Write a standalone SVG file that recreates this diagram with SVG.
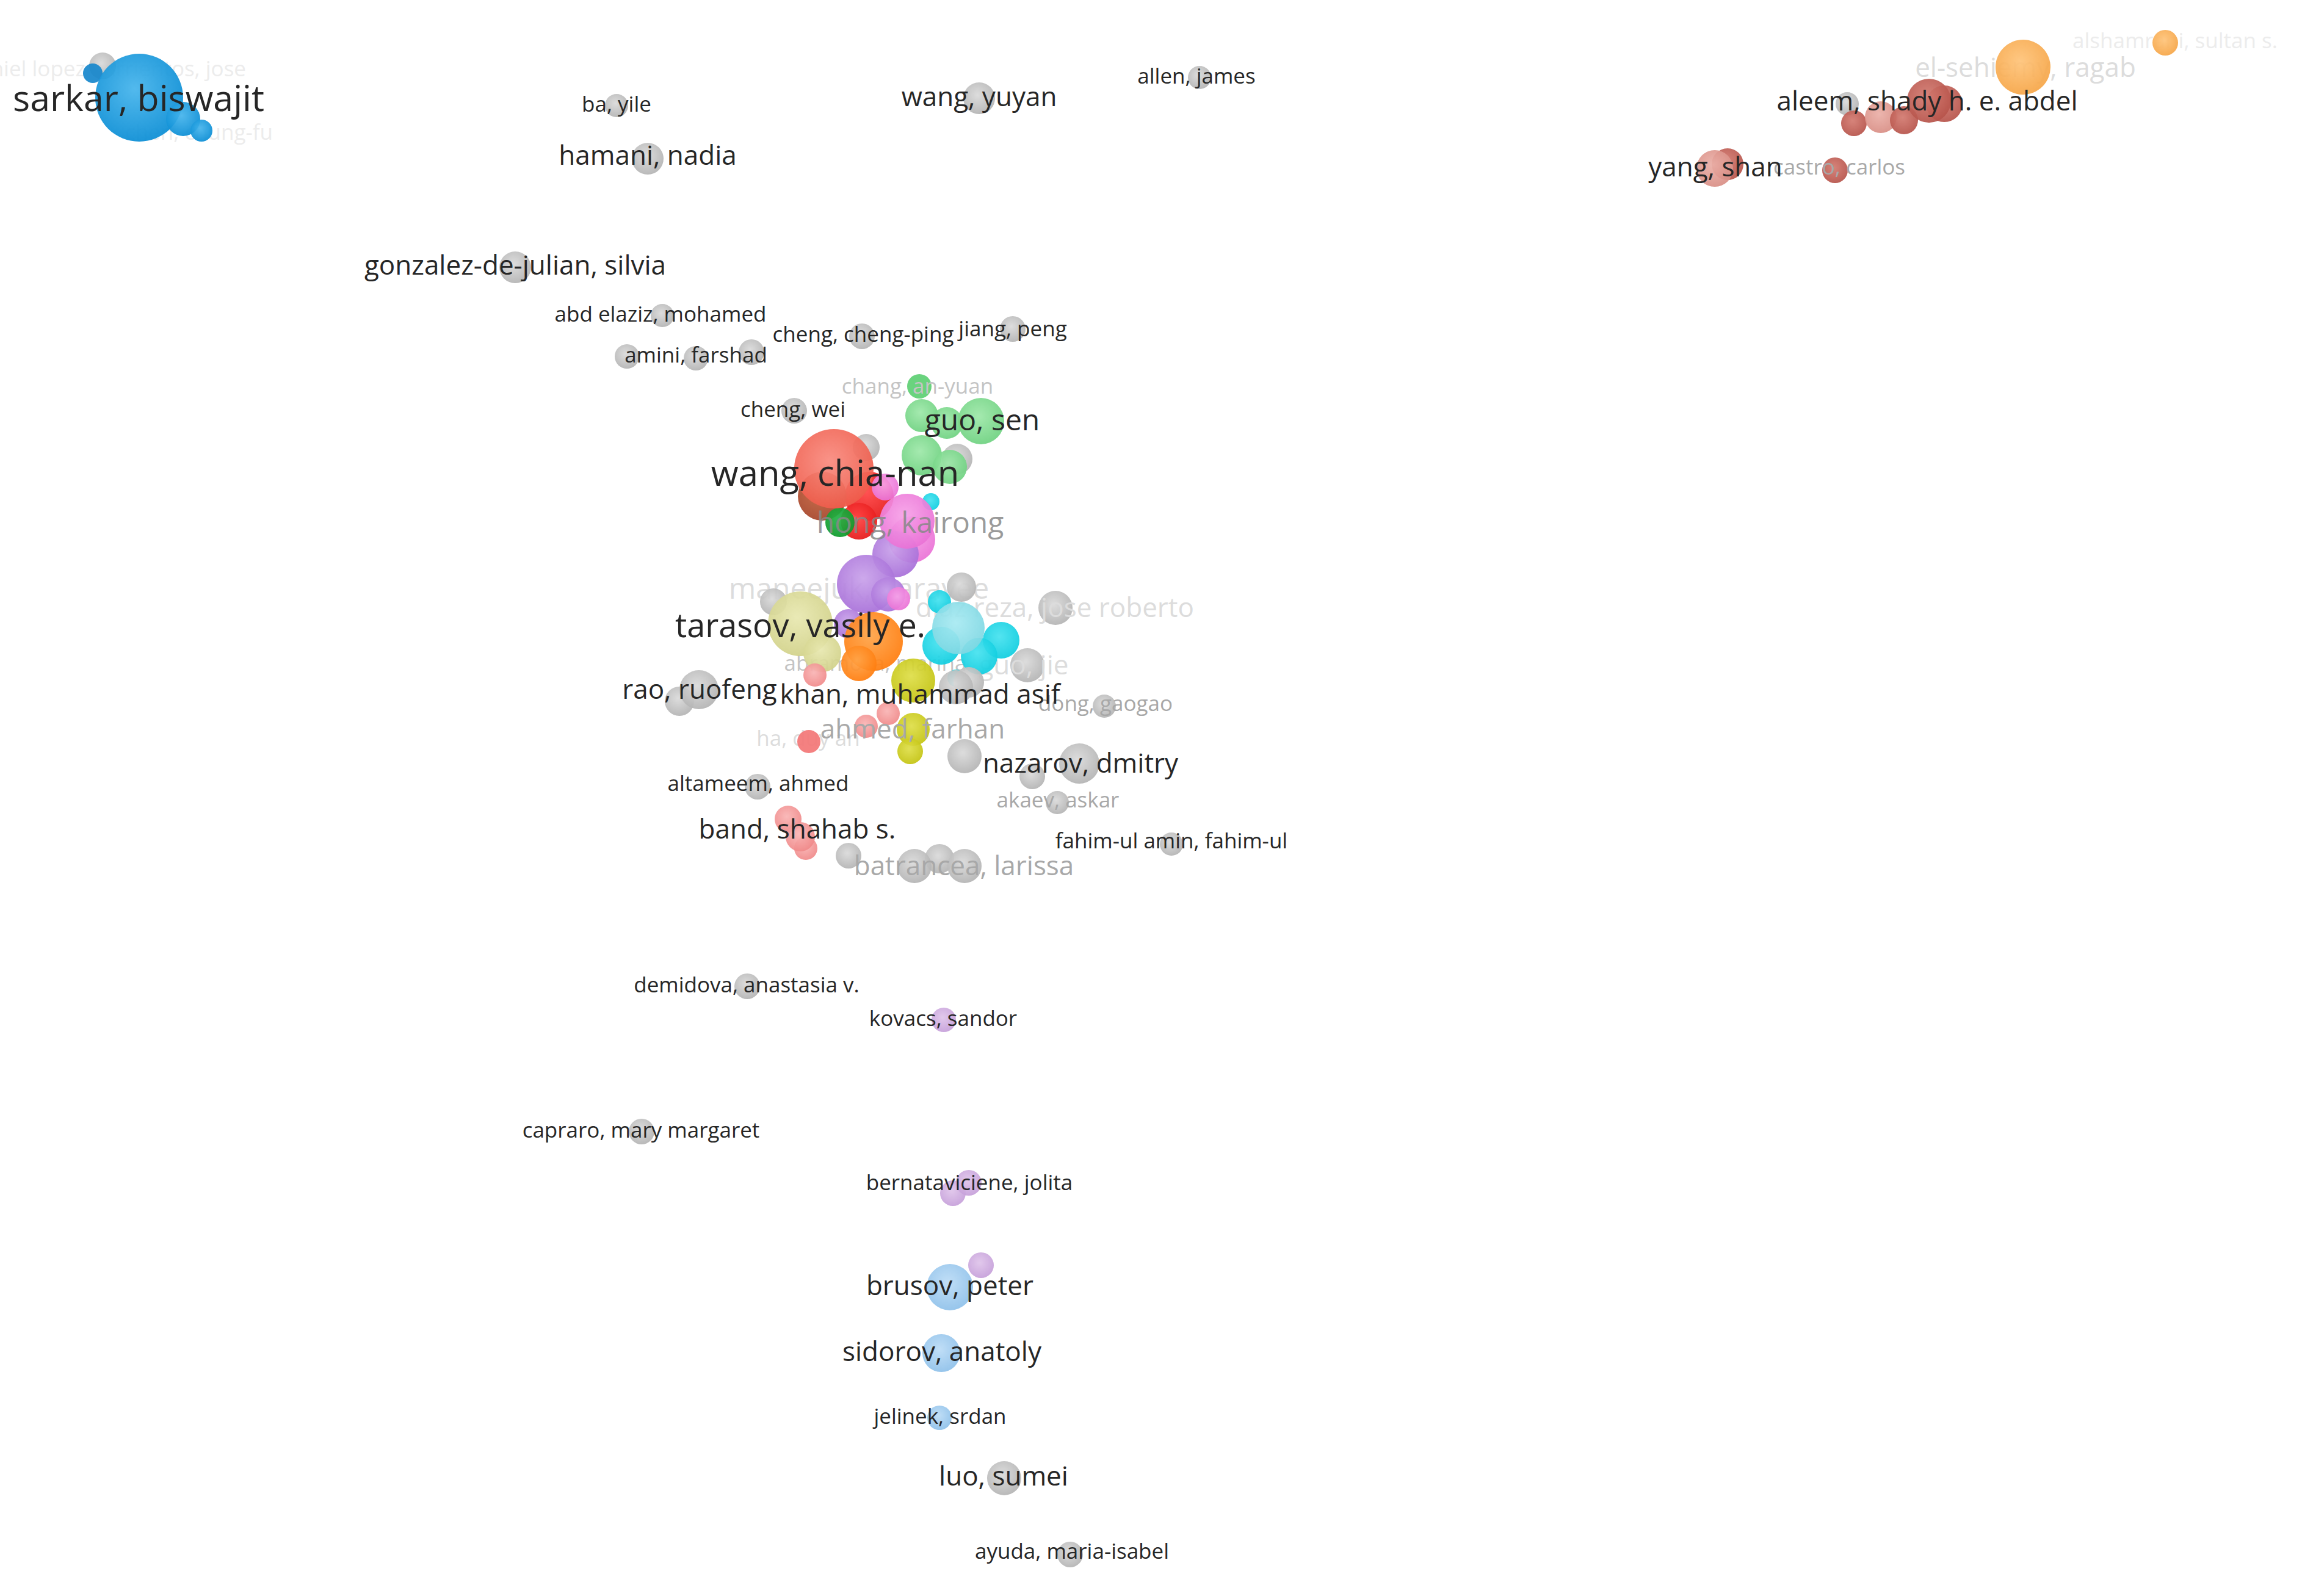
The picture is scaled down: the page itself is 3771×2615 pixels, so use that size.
<svg xmlns="http://www.w3.org/2000/svg" width="3771" height="2615" viewBox="0 0 3771 2615">
<style>
text{font-family:"Open Sans","Noto Sans","Liberation Sans",sans-serif;text-anchor:middle}
.s{font-size:35px}.m{font-size:44px}.mm{font-size:48px}.l{font-size:58px}.lt{font-size:54px}.xl{font-size:59px}
.d{fill:#262626}.f0{fill:#ececec}.f1{fill:#dcdcdc}.f2{fill:#c4c4c4}.f3{fill:#a8a8a8}.f4{fill:#888}
circle{fill-opacity:.93}
</style>
<defs>
<radialGradient id="gy" cx="45%" cy="40%" r="60%"><stop offset="0" stop-color="#dadada"/><stop offset="1" stop-color="#b4b4b4"/></radialGradient>
<radialGradient id="bl" cx="45%" cy="40%" r="60%"><stop offset="0" stop-color="#45b4ec"/><stop offset="1" stop-color="#0b8ed5"/></radialGradient>
<radialGradient id="rl" cx="45%" cy="40%" r="60%"><stop offset="0" stop-color="#f98b7f"/><stop offset="1" stop-color="#ef5d4c"/></radialGradient>
<radialGradient id="br" cx="45%" cy="40%" r="60%"><stop offset="0" stop-color="#c4643f"/><stop offset="1" stop-color="#a6452a"/></radialGradient>
<radialGradient id="rs" cx="45%" cy="40%" r="60%"><stop offset="0" stop-color="#ff4545"/><stop offset="1" stop-color="#e61a1a"/></radialGradient>
<radialGradient id="gl" cx="45%" cy="40%" r="60%"><stop offset="0" stop-color="#9ee8a9"/><stop offset="1" stop-color="#6fd281"/></radialGradient>
<radialGradient id="gd" cx="45%" cy="40%" r="60%"><stop offset="0" stop-color="#26b447"/><stop offset="1" stop-color="#0e9a2c"/></radialGradient>
<radialGradient id="pk" cx="45%" cy="40%" r="60%"><stop offset="0" stop-color="#f7a2e8"/><stop offset="1" stop-color="#ea72d6"/></radialGradient>
<radialGradient id="pu" cx="45%" cy="40%" r="60%"><stop offset="0" stop-color="#c9a2ea"/><stop offset="1" stop-color="#a870d9"/></radialGradient>
<radialGradient id="kh" cx="45%" cy="40%" r="60%"><stop offset="0" stop-color="#e8e8b0"/><stop offset="1" stop-color="#d2d28a"/></radialGradient>
<radialGradient id="or" cx="45%" cy="40%" r="60%"><stop offset="0" stop-color="#ffa448"/><stop offset="1" stop-color="#ff7d0e"/></radialGradient>
<radialGradient id="cl" cx="45%" cy="40%" r="60%"><stop offset="0" stop-color="#a8eaf2"/><stop offset="1" stop-color="#80d8e3"/></radialGradient>
<radialGradient id="cy" cx="45%" cy="40%" r="60%"><stop offset="0" stop-color="#46e2ef"/><stop offset="1" stop-color="#10cee0"/></radialGradient>
<radialGradient id="ol" cx="45%" cy="40%" r="60%"><stop offset="0" stop-color="#dede48"/><stop offset="1" stop-color="#c4c412"/></radialGradient>
<radialGradient id="sa" cx="45%" cy="40%" r="60%"><stop offset="0" stop-color="#f9b4b4"/><stop offset="1" stop-color="#f08a8a"/></radialGradient>
<radialGradient id="lv" cx="45%" cy="40%" r="60%"><stop offset="0" stop-color="#dfc4ea"/><stop offset="1" stop-color="#c6a0da"/></radialGradient>
<radialGradient id="lb" cx="45%" cy="40%" r="60%"><stop offset="0" stop-color="#bcdcf6"/><stop offset="1" stop-color="#8fc1ea"/></radialGradient>
<radialGradient id="bx" cx="45%" cy="40%" r="60%"><stop offset="0" stop-color="#d37a70"/><stop offset="1" stop-color="#b7544b"/></radialGradient>
<radialGradient id="pr" cx="45%" cy="40%" r="60%"><stop offset="0" stop-color="#ebb0a8"/><stop offset="1" stop-color="#d98f86"/></radialGradient>
<radialGradient id="lo" cx="45%" cy="40%" r="60%"><stop offset="0" stop-color="#ffc47a"/><stop offset="1" stop-color="#f6a648"/></radialGradient>
</defs>
<rect width="3771" height="2615" fill="#fff"/>
<g id="connectors"/>

<!-- faint labels drawn beneath bubbles -->
<g id="n-lopez-barrientos-jose"><text class="s f0" x="403" y="125" style="text-anchor:end">daniel lopez barrientos, jose</text></g>
<g id="n-chen-chung-fu"><text class="s f0" x="447" y="229" style="text-anchor:end">chen, chung-fu</text></g>
<g id="n-maneejuk-paravee"><text class="mm f1" x="1407" y="981">maneejuk, paravee</text></g>
<g id="n-diaz-reza-jose-roberto"><circle cx="1729" cy="996" r="28" fill="url(#gy)"/><text class="m f1" x="1728" y="1011">diaz reza, jose roberto</text></g>
<g id="n-guo-jie"><circle cx="1683" cy="1090" r="28" fill="url(#gy)"/><text class="m f1" x="1677" y="1105">guo, jie</text></g>
<g id="n-abramova-marina"><text class="s f2" x="1434" y="1099">abramova, marina</text></g>
<g id="n-ha-duy-an"><text class="s f1" x="1324" y="1222">ha, duy an</text></g>
<g id="n-alshamrani-sultan-s"><text class="s f0" x="3563" y="79">alshamrani, sultan s.</text><circle cx="3547" cy="70" r="21" fill="url(#lo)"/></g>
<g id="n-el-sehiemy-ragab"><text class="m f1" x="3318" y="126">el-sehiemy, ragab</text><circle cx="3314" cy="110" r="45" fill="url(#lo)"/></g>

<!-- unlabelled bubbles -->
<g id="bubbles">
<circle cx="168" cy="108" r="22" fill="url(#gy)"/>
<circle cx="152" cy="120" r="16" fill="#1888cc"/>
<circle cx="228" cy="160" r="72" fill="url(#bl)"/>
<circle cx="300" cy="195" r="28" fill="url(#bl)"/>
<circle cx="330" cy="214" r="18" fill="url(#bl)"/>
<circle cx="1027" cy="584" r="20" fill="url(#gy)"/>
<circle cx="1231" cy="577" r="21" fill="url(#gy)"/>
<circle cx="1419" cy="733" r="22" fill="url(#gy)"/>
<circle cx="1568" cy="752" r="25" fill="url(#gy)"/>
<circle cx="1510" cy="681" r="27" fill="url(#gl)"/>
<circle cx="1551" cy="693" r="26" fill="url(#gl)"/>
<circle cx="1510" cy="746" r="33" fill="url(#gl)"/>
<circle cx="1556" cy="765" r="28" fill="url(#gl)"/>
<circle cx="1525" cy="822" r="14" fill="url(#cy)"/>
<circle cx="1424" cy="813" r="40" fill="url(#rs)"/>
<circle cx="1347" cy="813" r="40" fill="url(#br)"/>
<circle cx="1407" cy="854" r="30" fill="url(#rs)"/>
<circle cx="1376" cy="856" r="24" fill="url(#gd)"/>
<circle cx="1450" cy="798" r="22" fill="url(#pk)"/>
<circle cx="1494" cy="884" r="38" fill="url(#pk)"/>
<circle cx="1467" cy="908" r="38" fill="url(#pu)"/>
<circle cx="1267" cy="986" r="22" fill="url(#gy)"/>
<circle cx="1575" cy="962" r="24" fill="url(#gy)"/>
<circle cx="1419" cy="957" r="48" fill="url(#pu)"/>
<circle cx="1455" cy="974" r="28" fill="url(#pu)"/>
<circle cx="1472" cy="981" r="19" fill="url(#pk)"/>
<circle cx="1390" cy="1022" r="24" fill="url(#pu)"/>
<circle cx="1311" cy="1022" r="53" fill="url(#kh)"/>
<circle cx="1347" cy="1070" r="31" fill="url(#kh)"/>
<circle cx="1431" cy="1051" r="48" fill="url(#or)"/>
<circle cx="1407" cy="1087" r="29" fill="url(#or)"/>
<circle cx="1539" cy="986" r="19" fill="url(#cy)"/>
<circle cx="1542" cy="1058" r="31" fill="url(#cy)"/>
<circle cx="1640" cy="1049" r="30" fill="url(#cy)"/>
<circle cx="1604" cy="1075" r="30" fill="url(#cy)"/>
<circle cx="1570" cy="1029" r="43" fill="url(#cl)"/>
<circle cx="1566" cy="1111" r="14" fill="url(#cy)"/>
<circle cx="1113" cy="1149" r="24" fill="url(#gy)"/>
<circle cx="1587" cy="1118" r="25" fill="url(#gy)"/>
<circle cx="1496" cy="1115" r="36" fill="url(#ol)"/>
<circle cx="1566" cy="1126" r="28" fill="url(#gy)"/>
<circle cx="1335" cy="1106" r="19" fill="url(#sa)"/>
<circle cx="1455" cy="1169" r="19" fill="url(#sa)"/>
<circle cx="1419" cy="1190" r="19" fill="url(#sa)"/>
<circle cx="1325" cy="1215" r="19" fill="#f37777"/>
<circle cx="1496" cy="1195" r="27" fill="url(#ol)"/>
<circle cx="1491" cy="1231" r="21" fill="url(#ol)"/>
<circle cx="1580" cy="1239" r="28" fill="url(#gy)"/>
<circle cx="1691" cy="1272" r="21" fill="url(#gy)"/>
<circle cx="1390" cy="1402" r="21" fill="url(#gy)"/>
<circle cx="1539" cy="1407" r="24" fill="url(#gy)"/>
<circle cx="1498" cy="1419" r="28" fill="url(#gy)"/>
<circle cx="1291" cy="1342" r="22" fill="url(#sa)"/>
<circle cx="1320" cy="1390" r="19" fill="url(#sa)"/>
<circle cx="1561" cy="1955" r="21" fill="url(#lv)"/>
<circle cx="1607" cy="2073" r="21" fill="url(#lv)"/>
<circle cx="3026" cy="170" r="19" fill="url(#gy)"/>
<circle cx="3037" cy="202" r="21" fill="url(#bx)"/>
<circle cx="3081" cy="192" r="26" fill="url(#pr)"/>
<circle cx="3119" cy="197" r="23" fill="url(#bx)"/>
<circle cx="3185" cy="170" r="30" fill="url(#bx)"/>
<circle cx="2830" cy="269" r="26" fill="url(#bx)"/>
</g>

<!-- labelled nodes -->
<g id="n-chang-an-yuan"><circle cx="1506" cy="633" r="20" fill="#5fd074"/><text class="s f2" x="1503" y="645">chang, an-yuan</text></g>
<g id="n-hong-kairong"><circle cx="1486" cy="854" r="45" fill="url(#pk)"/><text class="mm f4" x="1491" y="873" fill-opacity=".85">hong, kairong</text></g>
<g id="n-dong-gaogao"><circle cx="1809" cy="1157" r="19" fill="url(#gy)"/><text class="s f3" x="1811" y="1165">dong, gaogao</text></g>
<g id="n-ahmed-farhan"><text class="m f3" x="1495" y="1210">ahmed, farhan</text></g>
<g id="n-akaev-askar"><circle cx="1732" cy="1315" r="19" fill="url(#gy)"/><text class="s f3" x="1733" y="1323">akaev, askar</text></g>
<g id="n-batrancea-larissa"><circle cx="1580" cy="1419" r="28" fill="url(#gy)"/><text class="m f3" x="1579" y="1434">batrancea, larissa</text></g>
<g id="n-castro-carlos"><circle cx="3006" cy="279" r="21" fill="url(#bx)"/><text class="s f3" x="3013" y="286">castro, carlos</text></g>

<g id="n-sarkar-biswajit"><text class="xl d" x="227" y="182">sarkar, biswajit</text></g>
<g id="n-ba-yile"><circle cx="1010" cy="173" r="19" fill="url(#gy)"/><text class="s d" x="1010" y="183">ba, yile</text></g>
<g id="n-wang-yuyan"><circle cx="1604" cy="161" r="26" fill="url(#gy)"/><text class="m d" x="1604" y="174">wang, yuyan</text></g>
<g id="n-allen-james"><circle cx="1965" cy="127" r="19" fill="url(#gy)"/><text class="s d" x="1960" y="137">allen, james</text></g>
<g id="n-hamani-nadia"><circle cx="1061" cy="260" r="26" fill="url(#gy)"/><text class="m d" x="1061" y="270">hamani, nadia</text></g>
<g id="n-gonzalez-de-julian-silvia"><circle cx="844" cy="438" r="26" fill="url(#gy)"/><text class="m d" x="844" y="450">gonzalez-de-julian, silvia</text></g>
<g id="n-abd-elaziz-mohamed"><circle cx="1085" cy="517" r="19" fill="url(#gy)"/><text class="s d" x="1082" y="527">abd elaziz, mohamed</text></g>
<g id="n-amini-farshad"><circle cx="1140" cy="587" r="20" fill="url(#gy)"/><text class="s d" x="1140" y="594">amini, farshad</text></g>
<g id="n-cheng-cheng-ping"><circle cx="1412" cy="551" r="21" fill="url(#gy)"/><text class="s d" x="1414" y="560">cheng, cheng-ping</text></g>
<g id="n-jiang-peng"><circle cx="1659" cy="539" r="21" fill="url(#gy)"/><text class="s d" x="1659" y="551">jiang, peng</text></g>
<g id="n-cheng-wei"><circle cx="1301" cy="673" r="21" fill="url(#gy)"/><text class="s d" x="1299" y="683">cheng, wei</text></g>
<g id="n-guo-sen"><circle cx="1607" cy="690" r="38" fill="url(#gl)"/><text class="mm d" x="1609" y="705">guo, sen</text></g>
<g id="n-wang-chia-nan"><circle cx="1366" cy="768" r="65" fill="url(#rl)"/><text class="l d" x="1368" y="796">wang, chia-nan</text></g>
<g id="n-tarasov-vasily-e"><text class="lt d" x="1311" y="1044">tarasov, vasily e.</text></g>
<g id="n-rao-ruofeng"><circle cx="1145" cy="1130" r="32" fill="url(#gy)"/><text class="m d" x="1146" y="1145">rao, ruofeng</text></g>
<g id="n-khan-muhammad-asif"><text class="m d" x="1507" y="1153">khan, muhammad asif</text></g>
<g id="n-nazarov-dmitry"><circle cx="1768" cy="1251" r="33" fill="url(#gy)"/><text class="m d" x="1770" y="1266">nazarov, dmitry</text></g>
<g id="n-altameem-ahmed"><circle cx="1241" cy="1289" r="21" fill="url(#gy)"/><text class="s d" x="1242" y="1296">altameem, ahmed</text></g>
<g id="n-band-shahab-s"><circle cx="1311" cy="1371" r="24" fill="url(#sa)"/><text class="m d" x="1306" y="1374">band, shahab s.</text></g>
<g id="n-fahim-ul-amin-fahim-ul"><circle cx="1919" cy="1383" r="19" fill="url(#gy)"/><text class="s d" x="1919" y="1390">fahim-ul amin, fahim-ul</text></g>
<g id="n-demidova-anastasia-v"><circle cx="1224" cy="1616" r="21" fill="url(#gy)"/><text class="s d" x="1223" y="1626">demidova, anastasia v.</text></g>
<g id="n-kovacs-sandor"><circle cx="1546" cy="1671" r="20" fill="url(#lv)"/><text class="s d" x="1545" y="1681">kovacs, sandor</text></g>
<g id="n-capraro-mary-margaret"><circle cx="1051" cy="1854" r="21" fill="url(#gy)"/><text class="s d" x="1050" y="1864">capraro, mary margaret</text></g>
<g id="n-bernataviciene-jolita"><circle cx="1587" cy="1938" r="21" fill="url(#lv)"/><text class="s d" x="1588" y="1950">bernataviciene, jolita</text></g>
<g id="n-brusov-peter"><circle cx="1556" cy="2109" r="38" fill="url(#lb)"/><text class="m d" x="1556" y="2122">brusov, peter</text></g>
<g id="n-sidorov-anatoly"><circle cx="1542" cy="2217" r="31" fill="url(#lb)"/><text class="m d" x="1543" y="2230">sidorov, anatoly</text></g>
<g id="n-jelinek-srdan"><circle cx="1539" cy="2323" r="20" fill="url(#lb)"/><text class="s d" x="1540" y="2333">jelinek, srdan</text></g>
<g id="n-luo-sumei"><circle cx="1645" cy="2422" r="28" fill="url(#gy)"/><text class="m d" x="1644" y="2434">luo, sumei</text></g>
<g id="n-ayuda-maria-isabel"><circle cx="1753" cy="2547" r="21" fill="url(#gy)"/><text class="s d" x="1756" y="2554">ayuda, maria-isabel</text></g>
<g id="n-aleem-shady-h-e-abdel"><circle cx="3160" cy="165" r="36" fill="url(#bx)"/><text class="m d" x="3157" y="181">aleem, shady h. e. abdel</text></g>
<g id="n-yang-shan"><circle cx="2809" cy="276" r="30" fill="url(#pr)"/><text class="m d" x="2810" y="289">yang, shan</text></g>
</svg>
